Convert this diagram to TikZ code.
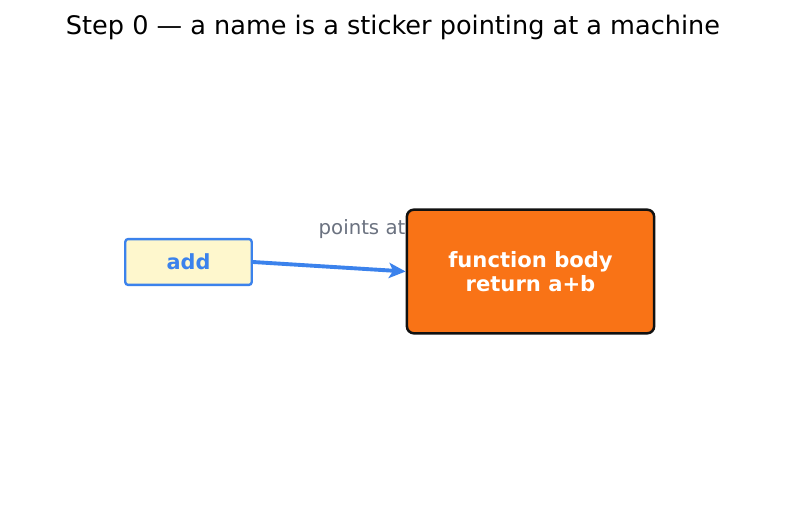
\documentclass[tikz,border=0pt]{standalone}
\usepackage{fontspec}
\setmainfont{DejaVu Sans}
\usepackage{xcolor}
\usetikzlibrary{arrows.meta,positioning}
\definecolor{namefill}{RGB}{254,247,205}
\definecolor{nameblue}{RGB}{59,130,236}
\definecolor{bodyorange}{RGB}{249,115,22}
\definecolor{bodyedge}{RGB}{17,17,17}
\definecolor{labelgray}{RGB}{107,114,128}
\tikzset{
  namebox/.style={draw=nameblue, fill=namefill, line width=1.7pt,
                  rounded corners=2pt, minimum width=91pt, minimum height=33pt,
                  font=\fontsize{15}{17}\selectfont\bfseries, text=nameblue},
  bodybox/.style={draw=bodyedge, fill=bodyorange, line width=1.8pt,
                  rounded corners=5pt, minimum width=178pt, minimum height=89pt,
                  align=center, font=\fontsize{15.2}{17.4}\selectfont\bfseries,
                  text=white},
  ptr/.style    ={-{Stealth[length=12pt, width=11pt, inset=3pt]},
                  line width=2.8pt, nameblue},
}
\begin{document}
\begin{tikzpicture}[x=0.72pt, y=0.72pt]
\path[fill=white] (0,0) rectangle (787,512);
\useasboundingbox (0,0) rectangle (787,512);

\node[font=\fontsize{18.4}{22}\selectfont] (title) at (393,485)
  {Step 0 --- a name is a sticker pointing at a machine};

% label sits under the body box, so draw it first
\node[font=\fontsize{14.2}{16}\selectfont, text=labelgray] (lbl) at (362,283)
  {points at};

\node[namebox] (name) at (188.5,250) {add};
\node[bodybox] (body) at (530.5,240.5) {function body\\return a+b};

\draw[ptr] (name.east) -- (body.west);

\end{tikzpicture}
\end{document}
